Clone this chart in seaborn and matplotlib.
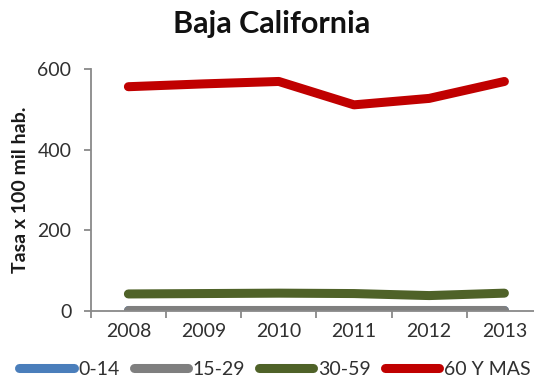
import matplotlib
matplotlib.use("Agg")
import matplotlib.pyplot as plt
import seaborn as sns
import pandas as pd
from matplotlib.ticker import FixedLocator

years = ["2008", "2009", "2010", "2011", "2012", "2013"]
g_0_14 = [1, 1, 1, 1, 1, 1]
g_15_29 = [2, 2, 2, 2, 2, 2]
g_30_59 = [42, 43, 44, 43, 38, 44]
g_60_mas = [556, 563, 569, 511, 527, 569]
groups = ["0-14", "15-29", "30-59", "60 Y MAS"]
colors = ["#4a7ebb", "#7f7f7f", "#4f6228", "#c00000"]

sns.set_theme(style="white")
plt.rcParams["font.family"] = ["Lato", "DejaVu Sans"]

df = pd.DataFrame({"Año": years * 4,
                   "Tasa": g_0_14 + g_15_29 + g_30_59 + g_60_mas,
                   "Grupo": sum([[g] * len(years) for g in groups], [])})
df["x"] = df["Año"].map({y: i for i, y in enumerate(years)})

fig = plt.figure(figsize=(5.34, 3.81), dpi=100)
ax = fig.add_axes([0.170, 0.184, 0.845, 0.635])

sns.lineplot(data=df, x="x", y="Tasa", hue="Grupo", hue_order=groups,
             palette=colors, linewidth=6.5, solid_capstyle="round",
             ax=ax, legend=True)

ax.set_xlim(-0.5, 5.5)
ax.set_ylim(0, 600)
ax.set_xticks(range(len(years)))
ax.set_xticklabels(years)
ax.xaxis.set_minor_locator(FixedLocator([i - 0.5 for i in range(len(years) + 1)]))
ax.set_yticks([0, 200, 400, 600])

for s in ["top", "right"]:
    ax.spines[s].set_visible(False)
for s in ["left", "bottom"]:
    ax.spines[s].set_color("#898989")
    ax.spines[s].set_linewidth(1.3)

tick_font = 14
ax.tick_params(axis="x", which="major", length=0, pad=9, labelsize=tick_font, labelcolor="#303030")
ax.tick_params(axis="x", which="minor", bottom=True, length=5, width=1.3, color="#898989")
ax.tick_params(axis="y", left=True, length=5, width=1.3, color="#898989", pad=9,
               labelsize=tick_font, labelcolor="#303030")

ax.set_xlabel("")
ax.set_ylabel("Tasa x 100 mil hab.", fontsize=14, fontweight="bold", color="#1a1a1a", labelpad=6)
fig.suptitle("Baja California", x=0.508, y=0.975, fontsize=22, fontweight="bold", color="#111111")

handles, labels = ax.get_legend_handles_labels()
ax.legend(handles, labels, loc="center", bbox_to_anchor=(0.515, 0.03),
          bbox_transform=fig.transFigure, ncol=4, frameon=False,
          fontsize=14, handlelength=2.8, handletextpad=0.25, columnspacing=0.7,
          labelcolor="#303030")

fig.savefig("out.png", dpi=100)
